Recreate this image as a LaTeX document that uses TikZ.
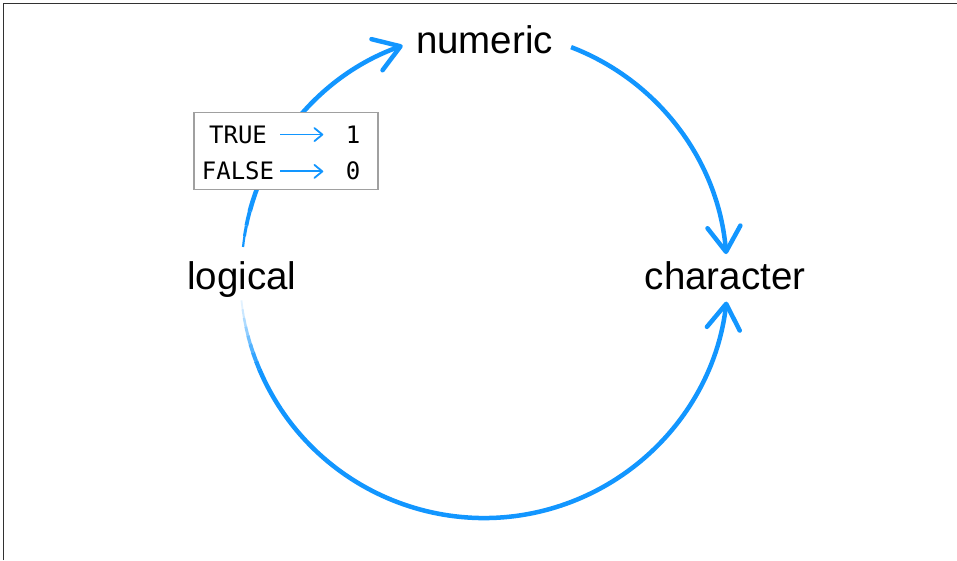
\documentclass[tikz,border=0pt]{standalone}
\usepackage{fontspec}
\setmainfont{Liberation Sans}
\newfontfamily\monof{DejaVu Sans Mono}
\usetikzlibrary{arrows.meta}
\definecolor{flowblue}{RGB}{18,150,255}
\definecolor{boxgray}{RGB}{160,160,160}
\definecolor{framegray}{RGB}{50,50,50}
\tikzset{
  flow/.style={draw=flowblue, line width=4.5pt},
  bigtip/.style={-{Straight Barb[round,length=25pt,width=33pt]}},
  lbl/.style={font=\fontsize{38.5}{40}\selectfont, inner sep=0pt, text=black},
  mono/.style={font=\monof\fontsize{24}{25}\selectfont, inner sep=0pt, text height=17pt, text depth=0pt},
  slot/.style={inner sep=0pt, text height=17pt, text depth=0pt},
  smallarrow/.style={draw=flowblue, line width=1.8pt, -{Straight Barb[round,length=8pt,width=13pt]}},
  valbox/.style={draw=boxgray, line width=1.5pt, fill=white, minimum width=184pt, minimum height=77pt, inner sep=0pt}
}
\begin{document}
\begin{tikzpicture}[x=1pt,y=1pt]
\useasboundingbox (0,0) rectangle (957,560);
\fill[white] (0,0) rectangle (957,560);
% frame (top and left edges)
\draw[framegray, line width=1.3pt] (3.8,0) -- (3.8,556.8) -- (957,556.8);

% labels
\node[lbl, anchor=base] (logical) at (242,271) {logical};
\node[lbl, anchor=base] (numeric) at (484.5,506) {numeric};
\node[lbl, anchor=base] (character) at (725,271) {character};

% circle centre
\coordinate (C) at (484,286);

% arc logical -> numeric
\path (C) ++(165:242.5) coordinate (a1s);
\foreach \a/\b/\w in {173.6/171/2.2, 171/168.5/3, 168.5/165/3.8}{
  \draw[draw=flowblue, line width=\w pt] (C) ++(\a:242.5) arc[start angle=\a, end angle=\b, radius=242.5];
}
\draw[flow, bigtip] (a1s) arc[start angle=165, end angle=109.6, radius=242.5];

% arc numeric -> character
\path (C) ++(69:243) coordinate (a2s);
\draw[flow, bigtip] (a2s) arc[start angle=69, end angle=4.7, radius=243];

% arc logical -> character (lower, fading in)
\foreach \a/\b/\o/\w in {186.2/188.3/0.12/1.8, 188.3/190.4/0.22/2.1, 190.4/192.5/0.34/2.5, 192.5/194.6/0.46/2.9, 194.6/196.7/0.6/3.3, 196.7/198.8/0.72/3.7, 198.8/200.9/0.85/4.0, 200.9/203/0.95/4.3}{
  \draw[draw=flowblue, draw opacity=\o, line width=\w pt] (C) ++(\a:244) arc[start angle=\a, end angle=\b, radius=244];
}
\path (C) ++(203:244) coordinate (a3s);
\draw[flow, bigtip] (a3s) arc[start angle=203, end angle=353.5, radius=244];

% value box
\node[valbox] (box) at (286,409.1) {};
\node[mono] (true) at (238,425.4) {TRUE};
\node[mono] (false) at (238,388.6) {FALSE};
\node[mono] (one) at (353,425.4) {1};
\node[mono] (zero) at (353,388.6) {0};
\node[slot, minimum width=72pt] (tl) at (true) {};
\node[slot, minimum width=72pt] (fl) at (false) {};
\node[slot, minimum width=15pt] (or) at (one) {};
\node[slot, minimum width=15pt] (zr) at (zero) {};
\draw[smallarrow, shorten <=6pt, shorten >=22pt] (tl.east) -- (or.west);
\draw[smallarrow, shorten <=6pt, shorten >=22pt] (fl.east) -- (zr.west);
\end{tikzpicture}
\end{document}
